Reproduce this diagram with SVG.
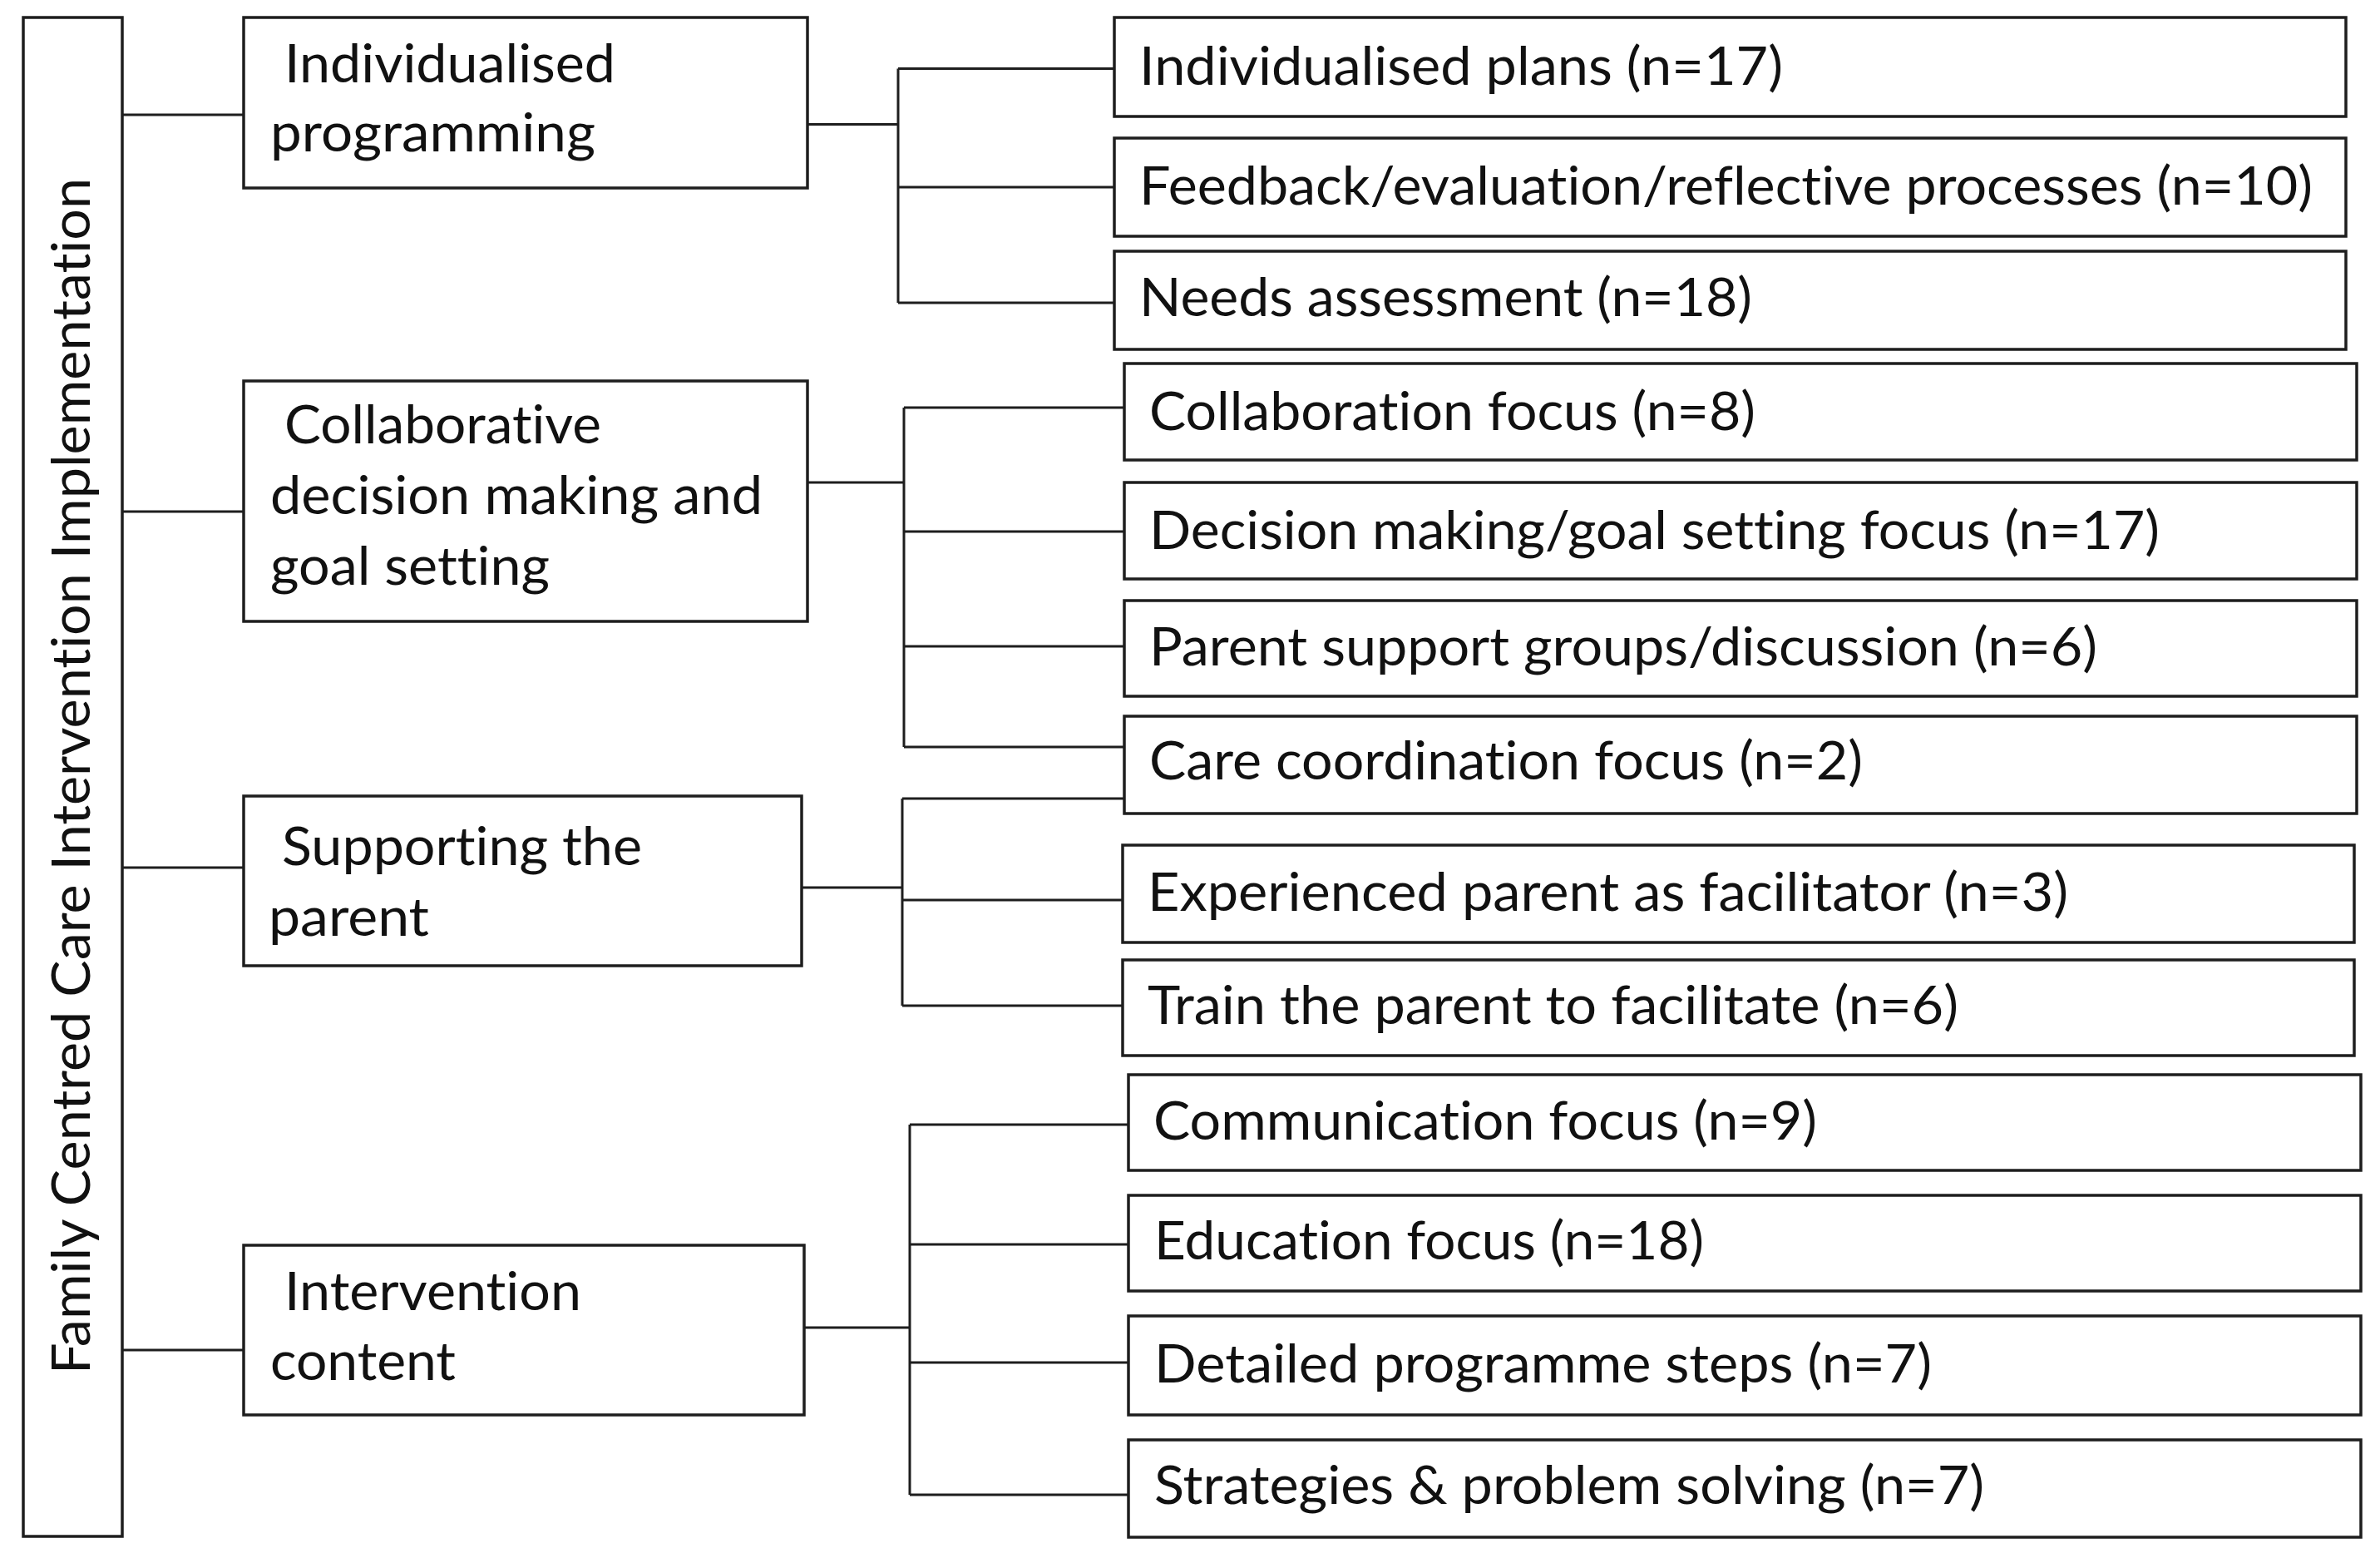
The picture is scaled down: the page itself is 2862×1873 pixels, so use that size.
<svg xmlns="http://www.w3.org/2000/svg" width="2862" height="1873" viewBox="0 0 2862 1873">
<style>
.box{fill:#fff;stroke:#1e1e1e;stroke-width:3.5}
.ln{stroke:#1e1e1e;stroke-width:3;fill:none}
text{font-family:Lato,"Open Sans","Liberation Sans",sans-serif;font-size:64px;fill:#111;font-variant-ligatures:none;font-feature-settings:"liga" 0,"clig" 0}
</style>
<rect width="2862" height="1873" fill="#fff"/>
<g id="root">
<rect class="box" x="28" y="21" width="119" height="1826"/>
<text transform="translate(108,1652) rotate(-90)" textLength="1438" lengthAdjust="spacingAndGlyphs">Family Centred Care Intervention Implementation</text>
</g>
<g id="connectors">
<path class="ln" d="M147 138H293M147 615H293M147 1043H293M147 1623H293"/>
<path class="ln" d="M971 149.5H1080M1080 82.5V364M1080 82.5H1340M1080 225H1340M1080 364H1340"/>
<path class="ln" d="M971 580H1087M1087 490V898M1087 490H1352M1087 639H1352M1087 777H1352M1087 898H1352"/>
<path class="ln" d="M964 1067H1085M1085 960V1209M1085 960H1352M1085 1082H1350M1085 1209H1350"/>
<path class="ln" d="M967 1596H1094M1094 1352V1797M1094 1352H1357M1094 1496H1357M1094 1638H1357M1094 1797H1357"/>
</g>
<g id="n-individualised-programming">
<rect class="box" x="293" y="21" width="678" height="205"/>
<text x="342" y="98.5" textLength="398" lengthAdjust="spacingAndGlyphs">Individualised</text>
<text x="325" y="182" textLength="391" lengthAdjust="spacingAndGlyphs">programming</text>
</g>
<g id="n-collaborative">
<rect class="box" x="293" y="458" width="678" height="289"/>
<text x="342" y="533" textLength="381" lengthAdjust="spacingAndGlyphs">Collaborative</text>
<text x="325" y="618" textLength="592" lengthAdjust="spacingAndGlyphs">decision making and</text>
<text x="325" y="703" textLength="336" lengthAdjust="spacingAndGlyphs">goal setting</text>
</g>
<g id="n-supporting">
<rect class="box" x="293" y="957" width="671" height="204"/>
<text x="339" y="1039.5" textLength="433" lengthAdjust="spacingAndGlyphs">Supporting the</text>
<text x="323" y="1125" textLength="193" lengthAdjust="spacingAndGlyphs">parent</text>
</g>
<g id="n-intervention-content">
<rect class="box" x="293" y="1497" width="674" height="204"/>
<text x="342" y="1575" textLength="357" lengthAdjust="spacingAndGlyphs">Intervention</text>
<text x="325" y="1659" textLength="223" lengthAdjust="spacingAndGlyphs">content</text>
</g>
<g id="n-plans"><rect class="box" x="1340" y="21" width="1481" height="119"/><text x="1370" y="102" textLength="774" lengthAdjust="spacingAndGlyphs">Individualised plans (n=17)</text></g>
<g id="n-feedback"><rect class="box" x="1340" y="166" width="1481" height="118"/><text x="1370" y="245.5" textLength="1411" lengthAdjust="spacingAndGlyphs">Feedback/evaluation/reflective processes (n=10)</text></g>
<g id="n-needs"><rect class="box" x="1340" y="302" width="1481" height="118"/><text x="1370" y="380" textLength="737" lengthAdjust="spacingAndGlyphs">Needs assessment (n=18)</text></g>
<g id="n-collab-focus"><rect class="box" x="1352" y="437" width="1482" height="116"/><text x="1382" y="517" textLength="729" lengthAdjust="spacingAndGlyphs">Collaboration focus (n=8)</text></g>
<g id="n-decision"><rect class="box" x="1352" y="580" width="1482" height="116"/><text x="1382" y="660" textLength="1215" lengthAdjust="spacingAndGlyphs">Decision making/goal setting focus (n=17)</text></g>
<g id="n-parent-support"><rect class="box" x="1352" y="722" width="1482" height="115"/><text x="1382" y="800" textLength="1140" lengthAdjust="spacingAndGlyphs">Parent support groups/discussion (n=6)</text></g>
<g id="n-care-coord"><rect class="box" x="1352" y="861" width="1482" height="117"/><text x="1382" y="937" textLength="858" lengthAdjust="spacingAndGlyphs">Care coordination focus (n=2)</text></g>
<g id="n-experienced"><rect class="box" x="1350" y="1016" width="1481" height="117"/><text x="1380" y="1095" textLength="1107" lengthAdjust="spacingAndGlyphs">Experienced parent as facilitator (n=3)</text></g>
<g id="n-train"><rect class="box" x="1350" y="1154" width="1481" height="115"/><text x="1380" y="1231" textLength="975" lengthAdjust="spacingAndGlyphs">Train the parent to facilitate (n=6)</text></g>
<g id="n-communication"><rect class="box" x="1357" y="1292" width="1482" height="115"/><text x="1387" y="1370" textLength="798" lengthAdjust="spacingAndGlyphs">Communication focus (n=9)</text></g>
<g id="n-education"><rect class="box" x="1357" y="1437" width="1482" height="115"/><text x="1388" y="1514" textLength="661" lengthAdjust="spacingAndGlyphs">Education focus (n=18)</text></g>
<g id="n-detailed"><rect class="box" x="1357" y="1582" width="1482" height="119"/><text x="1388" y="1662" textLength="935" lengthAdjust="spacingAndGlyphs">Detailed programme steps (n=7)</text></g>
<g id="n-strategies"><rect class="box" x="1357" y="1731" width="1482" height="117"/><text x="1388" y="1808" textLength="998" lengthAdjust="spacingAndGlyphs">Strategies &amp; problem solving (n=7)</text></g>
</svg>
